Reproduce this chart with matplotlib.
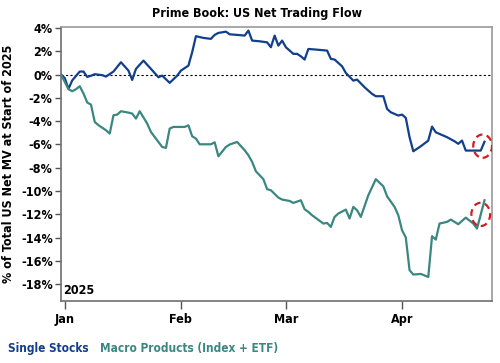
import matplotlib
matplotlib.use('Agg')
import matplotlib.pyplot as plt
import matplotlib.dates as mdates
from matplotlib.patches import Ellipse
import numpy as np

plt.rcParams['font.family'] = ['DejaVu Sans']
plt.rcParams['font.stretch'] = 'condensed'
plt.rcParams['font.weight'] = 'bold'

# days since 1 Jan 2025, values in % of total US net MV at start of 2025
single_days = [-1, 0, 1, 2, 4, 5, 6, 7, 8, 10, 11, 13, 15, 17, 18, 19, 21, 23, 25, 26,
               28, 30, 31, 33, 34, 35, 37, 39, 40, 41, 42, 43, 44, 46, 48, 49, 50, 52, 54, 55,
               56, 57, 58, 59, 61, 62, 63, 64, 65, 67, 68, 70, 71, 72, 74, 75, 77, 78, 80, 82,
               83, 85, 86, 87, 89, 90, 91, 92, 93, 95, 97, 98, 99, 100, 102, 104, 105, 106, 107, 109,
               111, 112]
single_vals = [0.0, -0.3, -1.22, -0.5, 0.26, 0.26, -0.2, -0.1, 0.03, -0.05, -0.17, 0.26, 1.06, 0.34, -0.46, 0.49, 1.2, 0.49, -0.23, -0.09,
               -0.71, -0.09, 0.34, 0.77, 1.92, 3.3, 3.15, 3.07, 3.41, 3.58, 3.63, 3.69, 3.46, 3.41, 3.35, 3.78, 2.92, 2.86, 2.77, 2.35,
               3.35, 2.49, 2.92, 2.35, 1.78, 1.78, 1.57, 1.29, 2.2, 2.15, 2.12, 2.06, 1.35, 1.29, 0.71, 0.14, -0.52, -0.43, -1.09, -1.66,
               -1.86, -1.86, -2.95, -3.24, -3.52, -3.44, -3.72, -5.38, -6.59, -6.16, -5.67, -4.47, -4.96, -5.1, -5.38, -5.73, -5.95, -5.67, -6.53, -6.53,
               -6.53, -5.77]

macro_days = [-1, 0, 1, 2, 3, 4, 5, 6, 7, 8, 9, 11, 12, 13, 14, 15, 17, 18, 19, 20,
              22, 23, 25, 26, 27, 28, 29, 32, 33, 34, 35, 36, 39, 40, 41, 43, 44, 46, 48, 49,
              50, 51, 52, 53, 54, 55, 57, 58, 60, 61, 63, 64, 65, 66, 69, 70, 71, 72, 73, 75,
              76, 77, 78, 79, 81, 83, 85, 86, 88, 89, 90, 91, 92, 93, 94, 95, 97, 98, 99, 100,
              102, 103, 105, 107, 109, 110, 112]
macro_vals = [0.0, -0.63, -1.26, -1.43, -1.26, -1.0, -1.63, -2.4, -2.58, -4.07, -4.35, -4.78, -5.07, -3.5, -3.44, -3.15, -3.27, -3.35, -3.78, -3.15,
              -4.21, -4.93, -5.79, -6.22, -6.3, -4.64, -4.5, -4.5, -4.36, -5.3, -5.5, -5.99, -5.99, -5.82, -7.02, -6.22, -6.01, -5.79, -6.5, -6.93,
              -7.5, -8.31, -8.65, -8.99, -9.85, -9.94, -10.57, -10.74, -10.86, -11.03, -10.8, -11.57, -11.8, -12.09, -12.8, -12.75, -13.09, -12.23, -11.94, -11.6,
              -12.37, -11.37, -11.66, -12.23, -10.37, -8.99, -9.6, -10.46, -11.37, -12.09, -13.38, -14.0, -16.81, -17.18, -17.16, -17.13, -17.39, -13.89, -14.18, -12.8,
              -12.66, -12.46, -12.86, -12.29, -12.8, -13.23, -10.8]

yticks = [4, 2, 0, -2, -4, -6, -8, -10, -12, -14, -16, -18]

blue = '#123f8c'
teal = '#3a8782'
red = '#cc1f1f'

base = np.datetime64('2025-01-01')
x_single = base + np.array(single_days).astype('timedelta64[D]')
x_macro = base + np.array(macro_days).astype('timedelta64[D]')

fig = plt.figure(figsize=(5, 3.63), dpi=100)
ax = fig.add_axes([0.122, 0.171, 0.862, 0.755])

ax.axhline(0, color='black', lw=0.8, ls=(0, (2, 2)), zorder=1)
ax.plot(x_single, single_vals, color=blue, lw=1.6, zorder=3)
ax.plot(x_macro, macro_vals, color=teal, lw=1.6, zorder=3)

# red dashed circles on the last move of each series
for xs, ys in [(single_days, single_vals), (macro_days, macro_vals)]:
    cx = base + np.timedelta64(int(round((xs[-1] + xs[-2]) / 2 * 24)), 'h')
    cy = (ys[-1] + ys[-2]) / 2
    e = Ellipse((mdates.date2num(cx), cy), width=5.0, height=2.0, fill=False,
                edgecolor=red, lw=1.6, ls=(0, (3, 2)), zorder=4)
    ax.add_patch(e)

ax.set_xlim(np.datetime64('2024-12-31'), np.datetime64('2025-04-25'))
ax.set_ylim(-19.45, 4.1)
ax.set_yticks(yticks)
ax.set_yticklabels([f'{v}%' for v in yticks])
ax.xaxis.set_major_locator(mdates.MonthLocator())
ax.xaxis.set_major_formatter(mdates.DateFormatter('%b'))

for name, s in ax.spines.items():
    s.set_color('#6e6e6e' if name in ('left', 'bottom') else '#9a9a9a')
    s.set_linewidth(1.2)
ax.tick_params(axis='both', colors='#555555', labelcolor='black', labelsize=9, length=4, width=1, pad=2)
ax.tick_params(axis='x', length=6, pad=3)
for lab in ax.get_xticklabels() + ax.get_yticklabels():
    lab.set_fontweight('bold')

ax.set_ylabel('% of Total US Net MV at Start of 2025', fontsize=9, fontweight='bold', labelpad=4)
ax.text(0.006, 0.015, '2025', transform=ax.transAxes, fontsize=9, fontweight='bold', ha='left', va='bottom')

fig.text(0.514, 0.962, 'Prime Book: US Net Trading Flow', ha='center', va='center', fontsize=9, fontweight='bold')
fig.text(0.016, 0.04, 'Single Stocks', color=blue, fontsize=8.5, fontweight='bold', ha='left', va='center')
fig.text(0.2, 0.04, 'Macro Products (Index + ETF)', color=teal, fontsize=8.5, fontweight='bold', ha='left', va='center')

fig.savefig('out.png', dpi=100)
